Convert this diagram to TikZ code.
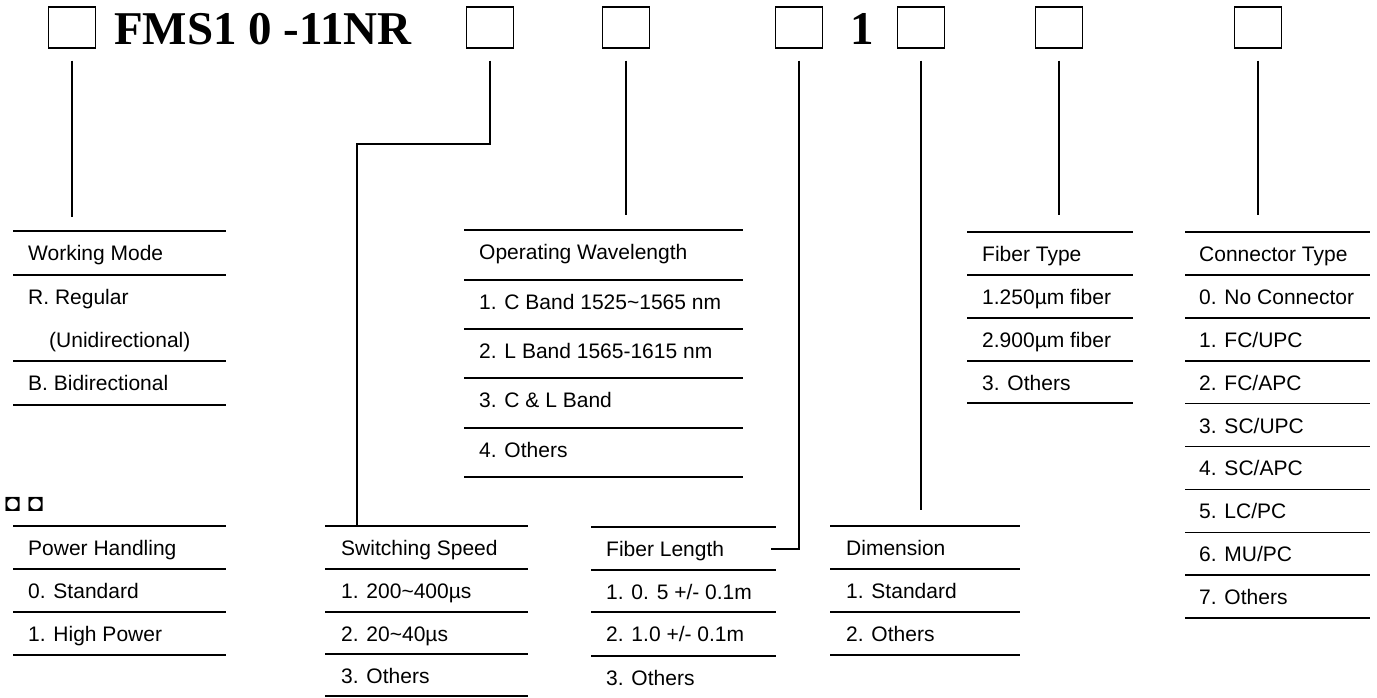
\documentclass[tikz,border=0pt]{standalone}
\usepackage{fontspec}
\setmainfont{Liberation Sans}
\newfontfamily\titlefont{Liberation Serif}
\usetikzlibrary{calc}
\begin{document}
\begin{tikzpicture}[x=1pt,y=-1pt,
  rule/.style={line width=1.6pt},
  conn/.style={line width=1.4pt},
  codebox/.style={draw,line width=1.5pt,minimum width=47pt,minimum height=41pt,inner sep=0pt},
  lbl/.style={anchor=base west,inner sep=0pt,font=\fontsize{21}{25}\selectfont},
  big/.style={anchor=base west,inner sep=0pt,font=\titlefont\bfseries\fontsize{47}{50}\selectfont},
  ]
\useasboundingbox (0,0) rectangle (1377,698);

% code boxes
\node[codebox] (b1) at (72,27.5) {};
\node[big] (title) at (114,45) {FMS1 0 -11NR};
\node[codebox] (b2) at (490,27.5) {};
\node[codebox] (b3) at (626,27.5) {};
\node[codebox] (b4) at (799,27.5) {};
\node[big,anchor=base] (one) at (862,45) {1};
\node[codebox] (b5) at (921,27.5) {};
\node[codebox] (b6) at (1059,27.5) {};
\node[codebox] (b7) at (1258,27.5) {};

% Working Mode
\foreach \y in {231,275,361,405} \draw[rule] (13,\y) -- (226,\y);
\node[lbl] (wm) at (28,260) {Working Mode};
\node[lbl] (wm1) at (28,304) {R. Regular};
\node[lbl] (wm2) at (49,347) {(Unidirectional)};
\node[lbl] (wm3) at (28,390) {B. Bidirectional};
\coordinate (wmtop) at (72,217);

% Power Handling
\node[anchor=base west,inner sep=0pt,font=\fontsize{25}{28}\selectfont] (sym) at (5,511) {◘\hspace{1pt} ◘};
\foreach \y in {526,569,612,655} \draw[rule] (13,\y) -- (226,\y);
\node[lbl] (ph) at (28,555) {Power Handling};
\node[lbl] (ph1) at (28,598) {0. Standard};
\node[lbl] (ph2) at (28,641) {1. High Power};

% Switching Speed
\foreach \y in {526,569,612,654,696} \draw[rule] (325,\y) -- (528,\y);
\node[lbl] (ss) at (341,555) {Switching Speed};
\node[lbl] (ss1) at (341,598) {1. 200\textasciitilde400µs};
\node[lbl] (ss2) at (341,641) {2. 20\textasciitilde40µs};
\node[lbl] (ss3) at (341,683) {3. Others};
\coordinate (k2) at (357,144);
\coordinate (sstop) at (357,526);

% Operating Wavelength
\foreach \y in {230,280,329,378,428,477} \draw[rule] (464,\y) -- (743,\y);
\node[lbl] (ow) at (479,259) {Operating Wavelength};
\node[lbl] (ow1) at (479,309) {1. C Band 1525\textasciitilde1565 nm};
\node[lbl] (ow2) at (479,358) {2. L Band 1565-1615 nm};
\node[lbl] (ow3) at (479,407) {3. C \& L Band};
\node[lbl] (ow4) at (479,457) {4. Others};
\coordinate (owtop) at (626,215);

% Fiber Length
\foreach \y in {527,570,612,656} \draw[rule] (591,\y) -- (776,\y);
\node[lbl] (fl) at (606,556) {Fiber Length};
\node[lbl] (fl1) at (606,599) {1. 0. 5 +/- 0.1m};
\node[lbl] (fl2) at (606,641) {2. 1.0 +/- 0.1m};
\node[lbl] (fl3) at (606,685) {3. Others};
\coordinate (flhook) at (771,549);

% Dimension
\foreach \y in {526,569,612,655} \draw[rule] (830,\y) -- (1020,\y);
\node[lbl] (dm) at (846,555) {Dimension};
\node[lbl] (dm1) at (846,598) {1. Standard};
\node[lbl] (dm2) at (846,641) {2. Others};
\coordinate (dmtop) at (921,510);

% Fiber Type
\foreach \y in {232,275,318,361,403} \draw[rule] (967,\y) -- (1133,\y);
\node[lbl] (ft) at (982,261) {Fiber Type};
\node[lbl] (ft1) at (982,304) {1.250µm fiber};
\node[lbl] (ft2) at (982,347) {2.900µm fiber};
\node[lbl] (ft3) at (982,390) {3. Others};
\coordinate (fttop) at (1059,215);

% Connector Type
\foreach \i in {0,...,9} \draw[rule] (1185,232+42.9*\i) -- (1370,232+42.9*\i);
\node[lbl] (ct) at (1199,261) {Connector Type};
\node[lbl] (ct0) at (1199,304) {0. No Connector};
\node[lbl] (ct1) at (1199,347) {1. FC/UPC};
\node[lbl] (ct2) at (1199,390) {2. FC/APC};
\node[lbl] (ct3) at (1199,433) {3. SC/UPC};
\node[lbl] (ct4) at (1199,475) {4. SC/APC};
\node[lbl] (ct5) at (1199,518) {5. LC/PC};
\node[lbl] (ct6) at (1199,561) {6. MU/PC};
\node[lbl] (ct7) at (1199,604) {7. Others};
\coordinate (cttop) at (1258,215);

% connectors
\draw[conn] ($(b1.south)+(0,12)$) -- (wmtop);
\draw[conn] ($(b2.south)+(0,12)$) |- (k2) -- (sstop);
\draw[conn] ($(b3.south)+(0,12)$) -- (owtop);
\draw[conn] ($(b4.south)+(0,12)$) |- (flhook);
\draw[conn] ($(b5.south)+(0,12)$) -- (dmtop);
\draw[conn] ($(b6.south)+(0,12)$) -- (fttop);
\draw[conn] ($(b7.south)+(0,12)$) -- (cttop);
\end{tikzpicture}
\end{document}
